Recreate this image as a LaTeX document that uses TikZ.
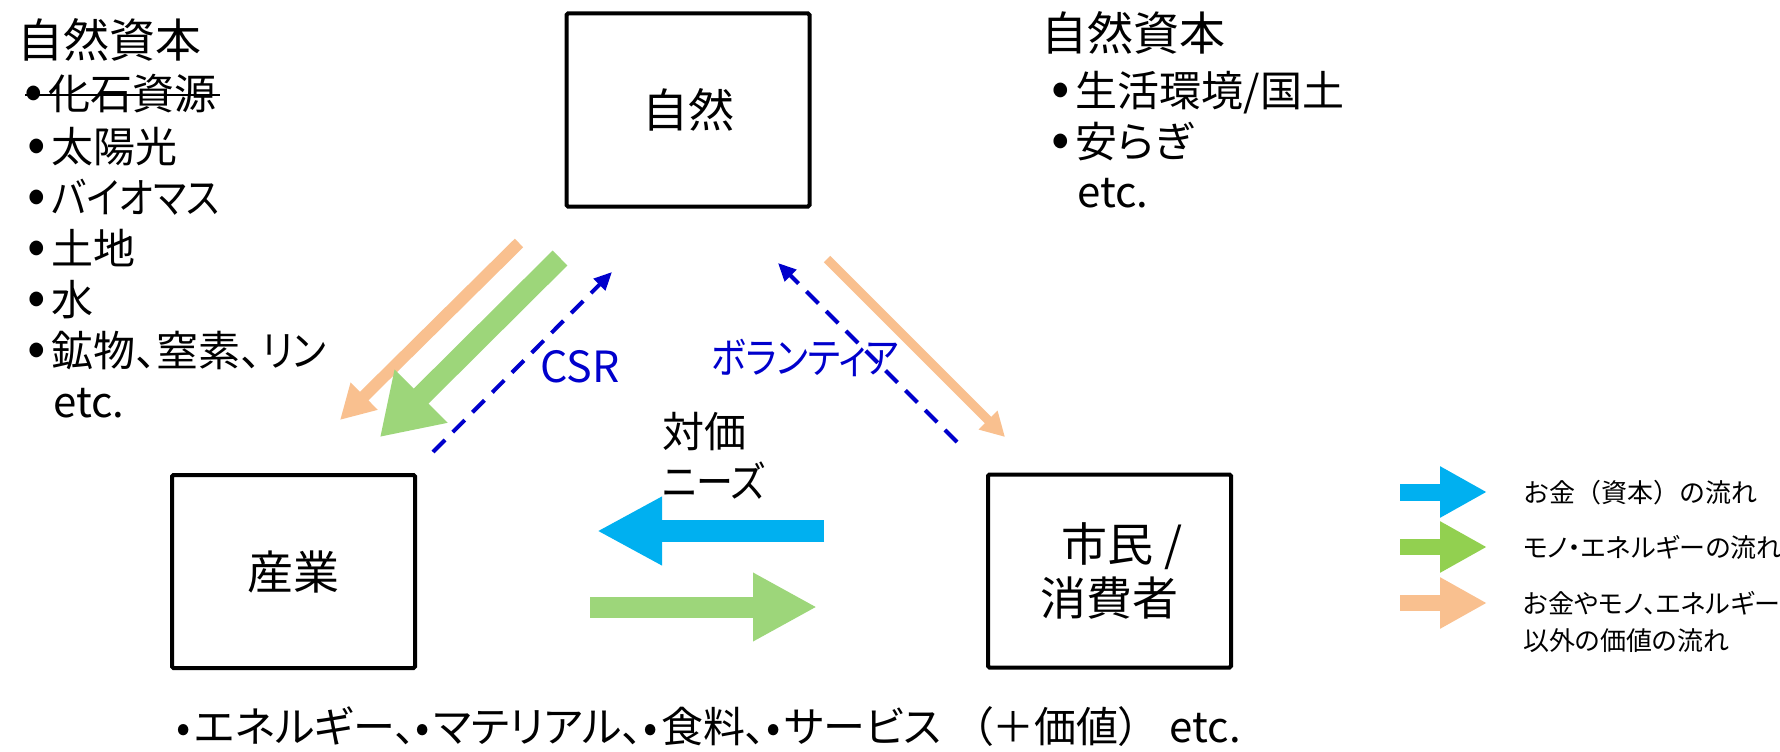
\documentclass[tikz,border=0pt]{standalone}
\usepackage{fontspec}
\setmainfont{Noto Sans CJK JP}[RawFeature=+palt]
\newfontfamily\fullwidthjp{Noto Sans CJK JP}
\usetikzlibrary{arrows.meta}
\definecolor{cblue}{HTML}{00B0F0}
\definecolor{cgreen}{HTML}{9DD67A}
\definecolor{lgreen}{HTML}{92D050}
\definecolor{corange}{HTML}{F9C08F}
\definecolor{dblue}{HTML}{0000CC}
\newcommand{\bul}{\scalebox{1.3}{•}\hspace{6pt}}
\newcommand{\sbul}{•\hspace{4pt}}
\newcommand{\narrow}[2]{\scalebox{#1}[1]{#2}}
\begin{document}
\begin{tikzpicture}[x=1pt,y=-1pt,
  boxst/.style={draw, line width=4pt, rounded corners=1.5pt, minimum width=243pt, minimum height=193pt, inner sep=0pt, align=center, font=\fontsize{46}{54}\selectfont},
  txt/.style={inner sep=0pt, anchor=base west},
  big/.style={font=\fontsize{46}{54}\selectfont},
  med/.style={font=\fontsize{42}{50}\selectfont},
  leg/.style={font=\fontsize{26}{30}\selectfont},
  bluelbl/.style={text=dblue},
  dasharrow/.style={draw=dblue, line width=4pt, dash pattern=on 17pt off 11pt, -{Triangle[length=18pt,width=16pt]}},
]
\useasboundingbox (0,0) rectangle (1780,752);
\fill[white] (0,0) rectangle (1780,752);

% boxes
\node[boxst] (nature) at (688,110) {自然};
\node[boxst] (industry) at (293.5,571.5) {産業};
\node[boxst] (citizen) at (1109.5,571) {\hspace*{0.55em}市民 /\\消費者};

% left natural capital
\node[txt,big] (ltitle) at (17,58) {自然資本};
\node[txt,med] (l1) at (24,110) {\bul 化石資源};
\draw[line width=2.5pt] (25,95) -- (220,95);
\node[txt,med] (l2) at (27,162) {\bul 太陽光};
\node[txt,med] (l3) at (27,213) {\bul \narrow{0.88}{バイオマス}};
\node[txt,med] (l4) at (27,264) {\bul 土地};
\node[txt,med] (l5) at (27,315) {\bul 水};
\node[txt,med] (l6) at (27,366) {\bul 鉱物、窒素、\narrow{0.9}{リン}};
\node[txt,med] (l7) at (53,417) {etc.};

% right natural capital
\node[txt,big] (rtitle) at (1041,51) {自然資本};
\node[txt,med] (r1) at (1051,106) {\bul 生活環境/国土};
\node[txt,med] (r2) at (1051,157) {\bul 安らぎ};
\node[txt,med] (r3) at (1077,207) {etc.};

% labels
\node[txt,med,bluelbl] (csr) at (540,382) {\fontsize{43}{50}\selectfont CSR};
\node[txt,med,bluelbl] (vol) at (711,373) {\narrow{0.85}{ボランティア}};
\node[txt,med] (taika) at (662,447) {対価};
\node[txt,med] (needs) at (662,497) {\narrow{0.88}{ニーズ}};

% bottom text
\node[txt,med] (goods) at (176,742) {\sbul エネルギー、\sbul マテリアル、\sbul 食料、\sbul サービス\hspace{30pt}（＋価値）\hspace{30pt}etc.};

% coordinates of arrow ends
\coordinate (lo1) at (519,243); \coordinate (lo2) at (340,420);
\coordinate (lg1) at (560,258); \coordinate (lg2) at (380,437);
\coordinate (ld1) at (433,452); \coordinate (ld2) at (612,272);
\coordinate (ro1) at (827,259); \coordinate (ro2) at (1005,437);
\coordinate (rd1) at (957,442); \coordinate (rd2) at (778,263);
\coordinate (hb1) at (824,531); \coordinate (hb2) at (597,531);
\coordinate (hg1) at (590,607); \coordinate (hg2) at (817,607);

\draw[corange, line width=12pt, -{Triangle[length=34pt,width=36pt]}] (lo1) -- (lo2);
\draw[cgreen, line width=21pt, -{Triangle[length=58pt,width=71pt]}] (lg1) -- (lg2);
\draw[dasharrow] (ld1) -- (ld2);
\draw[corange, line width=9pt, -{Triangle[length=24pt,width=25pt]}] (ro1) -- (ro2);
\draw[dasharrow] (rd1) -- (rd2);
\draw[cblue, line width=22pt, -{Triangle[length=65pt,width=64pt]}] (hb1) -- (hb2);
\draw[cgreen, line width=21pt, -{Triangle[length=64pt,width=64pt]}] (hg1) -- (hg2);

% legend
\coordinate (k1a) at (1400,492); \coordinate (k1b) at (1487,492);
\coordinate (k2a) at (1400,547); \coordinate (k2b) at (1487,547);
\coordinate (k3a) at (1400,603); \coordinate (k3b) at (1487,603);
\draw[cblue, line width=17pt, -{Triangle[length=47pt,width=48pt]}] (k1a) -- (k1b);
\draw[lgreen, line width=16pt, -{Triangle[length=47pt,width=48pt]}] (k2a) -- (k2b);
\draw[corange, line width=16pt, -{Triangle[length=47pt,width=48pt]}] (k3a) -- (k3b);
\node[txt,leg] (kt1) at (1523,502) {\fullwidthjp お金（資本）の流れ};
\node[txt,leg] (kt2) at (1523,557) {モノ・エネルギーの流れ};
\node[txt,leg] (kt3) at (1523,613) {お金やモノ、エネルギー};
\node[txt,leg] (kt4) at (1523,650) {以外の価値の流れ};
\end{tikzpicture}
\end{document}
